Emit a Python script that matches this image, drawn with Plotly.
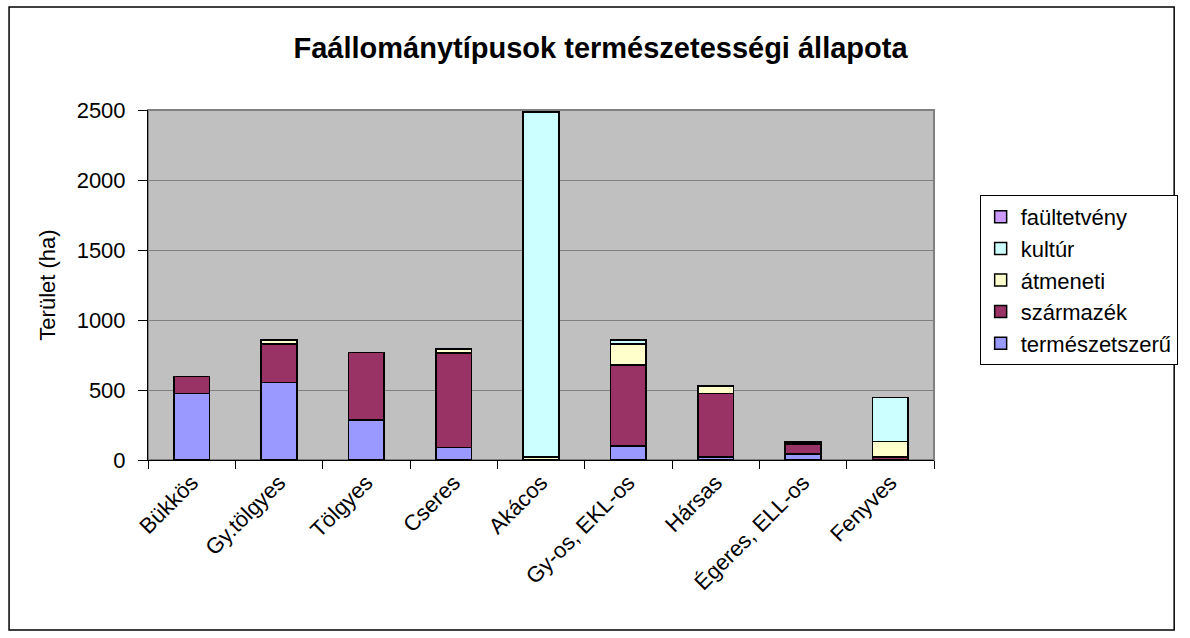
import plotly.graph_objects as go

categories = ["Bükkös", "Gy.tölgyes", "Tölgyes", "Cseres", "Akácos",
              "Gy-os, EKL-os", "Hársas", "Égeres, ELL-os", "Fenyves"]

termeszetszeru = [475, 552, 286, 88, 0, 100, 20, 43, 0]
szarmazek = [120, 277, 481, 676, 0, 579, 456, 69, 20]
atmeneti = [0, 28, 0, 29, 20, 150, 52, 10, 111]
kultur = [0, 0, 0, 0, 2465, 28, 0, 9, 314]
faultetveny = [0, 0, 0, 0, 0, 0, 0, 0, 0]

series = [
    ("természetszerű", termeszetszeru, "#9999FF"),
    ("származék", szarmazek, "#993366"),
    ("átmeneti", atmeneti, "#FFFFCC"),
    ("kultúr", kultur, "#CCFFFF"),
    ("faültetvény", faultetveny, "#CC99FF"),
]

FONT = "Liberation Sans, Arial, sans-serif"

fig = go.Figure()
for name, vals, col in series:
    fig.add_trace(go.Bar(
        x=categories, y=vals, name=name,
        marker=dict(color=col, line=dict(color="black", width=1.5)),
    ))

L, R, T, B = 148, 940, 110, 460
W, H = 1190, 638


def px2paper_x(px):
    return (px - L) / (R - L)


def px2paper_y(py):
    return (B - py) / (B - T)


fig.update_layout(
    width=W, height=H, autosize=False,
    barmode="stack", bargap=0.59,
    paper_bgcolor="white", plot_bgcolor="#C0C0C0",
    margin=dict(l=L, r=W - R, t=T, b=H - B, pad=0),
    font=dict(family=FONT, size=22, color="black"),
    title=dict(text="<b>Faállománytípusok természetességi állapota</b>",
               x=px2paper_x(604), xref="paper", xanchor="center",
               y=1 - 48 / H, yref="container", yanchor="middle",
               font=dict(family=FONT, size=29, color="black")),
    legend=dict(
        x=px2paper_x(986), y=px2paper_y(195), xanchor="left", yanchor="top",
        traceorder="reversed",
        bordercolor="black", borderwidth=1, bgcolor="white",
        font=dict(family=FONT, size=22, color="black"),
    ),
    showlegend=True,
)

fig.update_yaxes(
    range=[0, 2500], tickvals=[0, 500, 1000, 1500, 2000, 2500],
    showgrid=True, gridcolor="#808080", gridwidth=1,
    showline=True, linecolor="black", linewidth=1,
    ticks="outside", ticklen=9, tickcolor="black", ticklabelstandoff=8,
    title=dict(text="Terület (ha)", font=dict(family=FONT, size=22), standoff=14),
    zeroline=False,
)
fig.update_xaxes(
    tickangle=-45, showline=True, linecolor="black", linewidth=1,
    ticks="outside", ticklen=8, tickcolor="black", tickson="boundaries",
    showgrid=False,
)

# plot area border (top/right) and outer chart border
fig.add_shape(type="rect", xref="paper", yref="paper", x0=0, y0=0, x1=1, y1=1,
              line=dict(color="#808080", width=2), layer="below")
fig.add_shape(type="rect", xref="paper", yref="paper",
              x0=px2paper_x(8), x1=px2paper_x(1182),
              y0=px2paper_y(630), y1=px2paper_y(7),
              line=dict(color="black", width=1.5), fillcolor="rgba(0,0,0,0)")

fig.write_html(
    "out.html",
    config={"responsive": False, "displayModeBar": False},
    post_script="document.body.style.margin='0';document.body.style.overflow='hidden';",
)
